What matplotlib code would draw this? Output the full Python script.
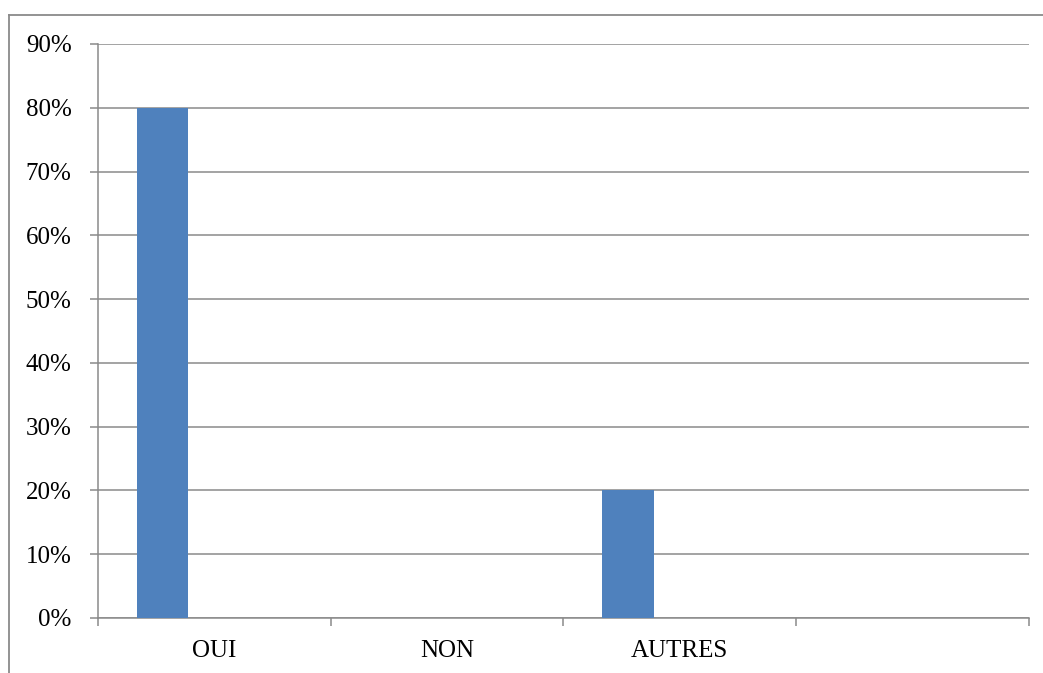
import matplotlib
matplotlib.use("Agg")
import matplotlib.pyplot as plt
from matplotlib.lines import Line2D
from matplotlib.ticker import FixedLocator, PercentFormatter

categories = ["OUI", "NON", "AUTRES", ""]
values = [0.80, 0.00, 0.20, 0.00]
yticks = [0.0, 0.1, 0.2, 0.3, 0.4, 0.5, 0.6, 0.7, 0.8, 0.9]

plt.rcParams['font.family'] = ['Liberation Serif', 'DejaVu Serif']

W, H = 1043, 673
fig = plt.figure(figsize=(W / 100, H / 100), dpi=100)
ax = fig.add_axes([98 / W, (H - 618) / H, (1028.7 - 98) / W, (618 - 44) / H])

grid_c = '#8a8a8a'
bar_w = 1 / 4.5
xs = list(range(len(categories)))
ax.bar([x - bar_w for x in xs], values, width=bar_w, color='#4F81BD', zorder=3)

ax.set_xlim(-0.5, len(categories) - 0.5)
ax.set_ylim(0, 0.9)
ax.set_yticks(yticks)
ax.yaxis.set_major_formatter(PercentFormatter(1.0, decimals=0))
ax.yaxis.grid(True, color=grid_c, linewidth=1.1, zorder=0)
ax.set_axisbelow(True)

ax.xaxis.set_major_locator(FixedLocator([i - 0.5 for i in range(len(categories) + 1)]))
ax.xaxis.set_minor_locator(FixedLocator(xs))
ax.set_xticklabels([])
ax.set_xticklabels(categories, minor=True)
ax.tick_params(axis='x', which='major', length=6, width=1.1, color=grid_c)
ax.tick_params(axis='x', which='minor', length=0, pad=16, labelsize=18)
ax.tick_params(axis='y', length=6, width=1.1, color=grid_c, pad=13, labelsize=18)

for s in ['top', 'right']:
    ax.spines[s].set_visible(False)
for s in ['left', 'bottom']:
    ax.spines[s].set_color(grid_c)
    ax.spines[s].set_linewidth(1.1)

# outer chart border (top and left visible)
fig.add_artist(Line2D([9 / W, 1.0], [1 - 15 / H, 1 - 15 / H], color=grid_c, linewidth=1.3, transform=fig.transFigure))
fig.add_artist(Line2D([9 / W, 9 / W], [0.0, 1 - 15 / H], color=grid_c, linewidth=1.3, transform=fig.transFigure))

fig.savefig("out.png", dpi=100)
